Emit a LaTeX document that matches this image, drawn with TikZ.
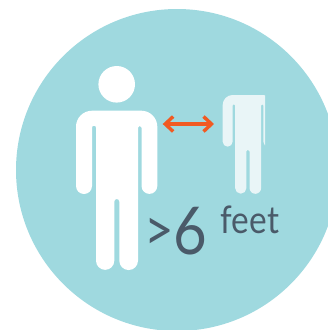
\documentclass[tikz,border=0pt]{standalone}
\usepackage{fontspec}
\setmainfont{Lato}
\newfontfamily\narrowlato{Lato}[FakeStretch=0.88]
\usepackage[dvipsnames]{xcolor}
\usetikzlibrary{arrows.meta}
\definecolor{discblue}{HTML}{9FD9DF}
\definecolor{ghostwhite}{HTML}{E9F5F7}
\definecolor{arroworange}{HTML}{F15A22}
\definecolor{labelslate}{HTML}{4A5A69}
\newcommand{\personpath}{(0,75.3) -- (0,16) arc[start angle=180,end angle=270,radius=16]
 -- (65.3,0) arc[start angle=270,end angle=360,radius=16]
 -- (81.3,75.3) arc[start angle=0,end angle=180,radius=7.9]
 -- (65.5,17) arc[start angle=0,end angle=-180,radius=1.75]
 -- (62,150) arc[start angle=0,end angle=180,radius=9.35]
 -- (43.3,90.8) arc[start angle=0,end angle=-180,radius=2.5]
 -- (38.3,150) arc[start angle=0,end angle=180,radius=9.15]
 -- (20,17) arc[start angle=0,end angle=-180,radius=2]
 -- (16,75.3) arc[start angle=0,end angle=180,radius=8] -- cycle}
\begin{document}
\begin{tikzpicture}[x=1pt,y=-1pt,
 label6/.style={anchor=base west,inner sep=0pt,text=labelslate}]
 \useasboundingbox (0,0) rectangle (328,330);
 \clip (0,0) rectangle (328,330);
 \coordinate (C) at (177,170);
 \coordinate (H) at (116.7,84.3);
 \coordinate (L) at (162.7,124);
 \coordinate (R) at (214,124);
 \fill[discblue] (C) circle[radius=161];
 % near person
 \fill[white] (H) circle[radius=18.3];
 \begin{scope}[shift={(76,110.7)}]
  \fill[white] \personpath;
 \end{scope}
 % far person, cut off on the right
 \begin{scope}
  \clip (215,90) rectangle (265,200);
  \begin{scope}[shift={(222.7,95)},scale=0.62]
   \fill[ghostwhite] \personpath;
  \end{scope}
 \end{scope}
 \draw[arroworange,line width=3.4pt,{Straight Barb[length=8pt,width=15pt,line width=3.4pt]}-{Straight Barb[length=8pt,width=15pt,line width=3.4pt]}] (L)--(R);
 \node[label6] (dist) at (144.7,254) {\narrowlato{\fontsize{58}{58}\selectfont\raisebox{3.7pt}{>}\kern-1pt}{\fontsize{66}{66}\selectfont 6}};
 \node[label6] (unit) at (220.5,233) {\narrowlato\fontsize{38}{38}\selectfont feet};
\end{tikzpicture}
\end{document}
